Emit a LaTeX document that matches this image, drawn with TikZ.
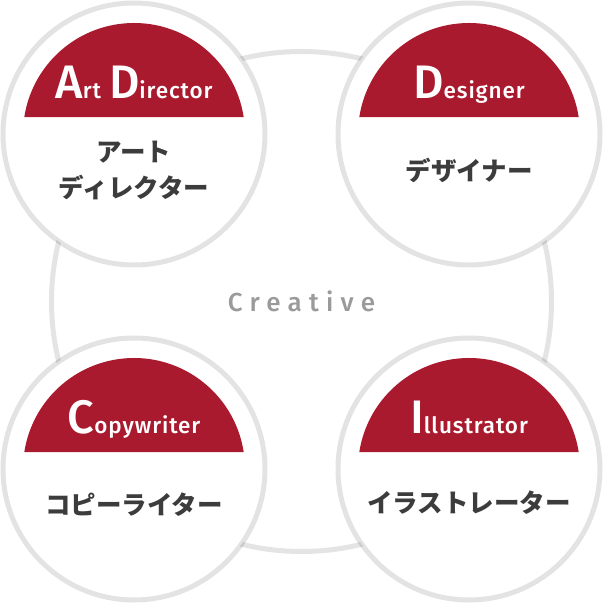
\documentclass[tikz,border=0pt]{standalone}
\usepackage{fontspec}
\newfontfamily\din{Fira Sans Medium}[LetterSpace=4]
\newfontfamily\dincr{Fira Sans Medium}[LetterSpace=28]
\newfontfamily\jp{Noto Sans CJK JP}
\definecolor{ring}{RGB}{228,228,228}
\definecolor{crimson}{RGB}{170,26,46}
\definecolor{jpgray}{RGB}{60,60,60}
\definecolor{crgray}{RGB}{154,154,154}
\newcommand\ttlcap[1]{{\fontsize{47}{47}\selectfont #1}}
\newcommand\ttlrest[1]{{\fontsize{22.5}{22.5}\selectfont #1}}
\tikzset{
  bigring/.style={circle, draw=ring, line width=5pt, minimum size=500pt, inner sep=0pt},
  smallring/.style={circle, fill=white, draw=black, draw opacity=0.11, line width=5pt, minimum size=262pt, inner sep=0pt},
  title/.style={anchor=base, text=white, font=\din, inner sep=0pt},
  jptext/.style={text=jpgray, font=\jp\bfseries\fontsize{25.5}{36}\selectfont, align=center, inner sep=0pt},
  crtext/.style={text=crgray, font=\dincr\fontsize{26}{26}\selectfont, inner sep=0pt}
}
\begin{document}
\begin{tikzpicture}[x=1pt,y=1pt]
\useasboundingbox (0,0) rectangle (603,603);
\fill[white] (0,0) rectangle (603,603);
\node[bigring] (big) at (301.5,301.5) {};
\node[crtext] (cr) at (301.5,301.5) {Creative};
\node[smallring] (ad) at (134,469) {};
\node[smallring] (de) at (469,469) {};
\node[smallring] (co) at (134,134) {};
\node[smallring] (il) at (469,134) {};
\foreach \c in {ad,de,co,il}{
  \fill[crimson] (\c.center) ++(8.8:111) arc[start angle=8.8, end angle=171.2, radius=111] -- cycle;
}
\node[title] (adt) at ([yshift=35pt]ad.center) {\ttlcap{A}\ttlrest{rt}\hspace{8pt}\ttlcap{D}\ttlrest{irector}};
\node[title] (det) at ([yshift=35pt]de.center) {\ttlcap{D}\ttlrest{esigner}};
\node[title] (cot) at ([yshift=35pt]co.center) {\ttlcap{C}\ttlrest{opywriter}};
\node[title] (ilt) at ([yshift=35pt]il.center) {\ttlcap{I}\ttlrest{llustrator}};
\node[jptext] (adj) at ([yshift=-36pt]ad.center) {アート\\ディレクター};
\node[jptext] (dej) at ([yshift=-36pt]de.center) {デザイナー};
\node[jptext] (coj) at ([yshift=-36pt]co.center) {コピーライター};
\node[jptext] (ilj) at ([yshift=-34pt]il.center) {イラストレーター};
\end{tikzpicture}
\end{document}
